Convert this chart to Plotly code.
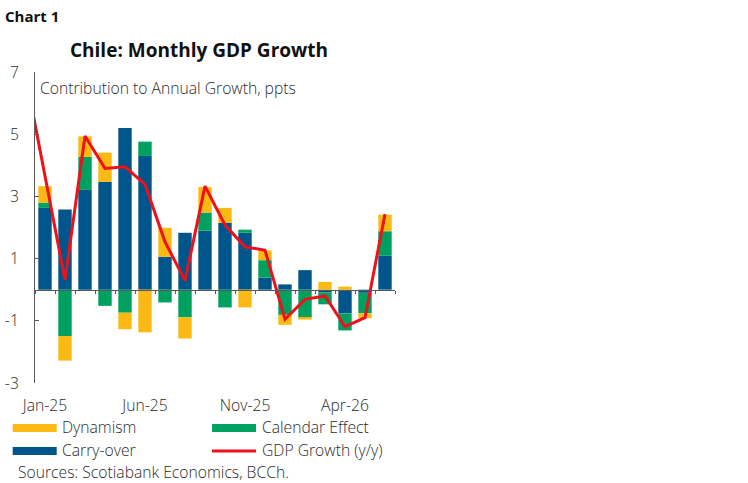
import plotly.graph_objects as go

months = ["Jan-25", "Feb-25", "Mar-25", "Apr-25", "May-25", "Jun-25", "Jul-25", "Aug-25", "Sep-25",
          "Oct-25", "Nov-25", "Dec-25", "Jan-26", "Feb-26", "Mar-26", "Apr-26", "May-26", "Jun-26"]
line_months = ["Dec-24"] + months
carry_over = [2.63, 2.58, 3.21, 3.47, 5.20, 4.30, 1.06, 1.83, 1.90, 2.15, 1.83, 0.39, 0.17, 0.63, -0.09, -0.76, -0.10, 1.09]
calendar_effect = [0.17, -1.49, 1.06, -0.52, -0.74, 0.46, -0.41, -0.89, 0.58, -0.57, 0.10, 0.56, -0.81, -0.90, -0.38, -0.55, -0.66, 0.79]
dynamism = [0.53, -0.79, 0.66, 0.94, -0.53, -1.37, 0.93, -0.68, 0.82, 0.48, -0.57, 0.31, -0.32, -0.06, 0.25, 0.10, -0.16, 0.53]
gdp_growth = [7.0, 3.6, 0.31, 4.94, 3.90, 3.95, 3.39, 1.54, 0.29, 3.33, 2.08, 1.38, 1.27, -0.95, -0.31, -0.20, -1.19, -0.90, 2.43]
x_tick_labels = ["Jan-25", "Jun-25", "Nov-25", "Apr-26"]
y_tick_vals = [-3, -1, 1, 3, 5, 7]
y_tick_text = ["-3", "-1", "1", "3", "5", "7"]

YELLOW = "#FDB913"
GREEN = "#00A160"
BLUE = "#00568A"
RED = "#EC111A"
AXIS = "#595959"
TEXT = "#2b2b2b"
BODY_FONT = "Open Sans"
BOLD_FONT = "Open Sans"
FS = 15.7
FW = 300

W, H = 748, 483
L, R, T, B = 35, 353, 72, 100
PW, PH = W - L - R, H - T - B


def px(xp):
    return (xp - L) / PW


def py(yp):
    return (H - B - yp) / PH


def body(size=FS):
    return dict(family=BODY_FONT, size=size, color=TEXT, weight=FW)


fig = go.Figure()
for name, vals, col in [("Carry-over", carry_over, BLUE),
                        ("Calendar Effect", calendar_effect, GREEN),
                        ("Dynamism", dynamism, YELLOW)]:
    fig.add_trace(go.Bar(x=months, y=vals, name=name, marker=dict(color=col, line=dict(width=0)),
                         showlegend=False, xaxis="x", yaxis="y"))

fig.add_trace(go.Scatter(x=line_months, y=gdp_growth, mode="lines", name="GDP Growth (y/y)",
                         line=dict(color=RED, width=3), showlegend=False, xaxis="x2", yaxis="y"))

fig.update_layout(
    width=W, height=H,
    margin=dict(l=L, r=R, t=T, b=B, autoexpand=False),
    paper_bgcolor="white", plot_bgcolor="white",
    barmode="relative", bargap=0.33,
    font=body(),
    title=dict(text="<b>Chile: Monthly GDP Growth</b>", x=199 / W, xanchor="center",
               y=1 - 50 / H, yanchor="middle", font=dict(size=19, color="#111111", family=BOLD_FONT)),
    xaxis=dict(type="category", categoryorder="array", categoryarray=line_months,
               range=[0.5, 18.5], anchor="free", position=0.3, automargin=False,
               showline=True, linecolor=AXIS, linewidth=1,
               ticks="outside", ticklen=3, tickcolor=AXIS, tickson="boundaries",
               tickmode="linear", tick0=0, dtick=1,
               showticklabels=False, showgrid=False, zeroline=False),
    xaxis2=dict(type="category", categoryorder="array", categoryarray=line_months,
                overlaying="x", matches="x", anchor="y", side="bottom", automargin=False,
                showline=False, ticks="", tickmode="array", tickvals=x_tick_labels,
                ticktext=x_tick_labels, ticklabelstandoff=11,
                tickfont=body(),
                showgrid=False, zeroline=False),
    yaxis=dict(range=[-3, 7], showline=True, linecolor=AXIS, linewidth=1, automargin=False,
               ticks="inside", ticklen=4, tickcolor=AXIS,
               tickmode="array", tickvals=y_tick_vals, ticktext=y_tick_text,
               ticklabelstandoff=12, tickfont=body(),
               showgrid=False, zeroline=False),
)

annotations = [
    dict(text="<b>Chart 1</b>", x=px(3), y=py(16), xref="paper", yref="paper",
         xanchor="left", yanchor="middle", showarrow=False,
         font=dict(size=15, color="#111111", family=BOLD_FONT)),
    dict(text="Contribution to Annual Growth, ppts", x=px(38), y=py(88), xref="paper", yref="paper",
         xanchor="left", yanchor="middle", showarrow=False, font=body()),
    dict(text="Sources: Scotiabank Economics, BCCh.", x=px(17), y=py(472), xref="paper", yref="paper",
         xanchor="left", yanchor="middle", showarrow=False, borderpad=0, font=body()),
]

legend_items = [
    ("Dynamism", YELLOW, "box", 12.7, 61, 428),
    ("Calendar Effect", GREEN, "box", 212, 261, 428),
    ("Carry-over", BLUE, "box", 12.7, 61, 451),
    ("GDP Growth (y/y)", RED, "line", 212, 261, 451),
]
shapes = []
for text, col, kind, sx, tx, yy in legend_items:
    if kind == "box":
        shapes.append(dict(type="rect", xref="paper", yref="paper", x0=px(sx), x1=px(sx + 44),
                           y0=py(yy + 4), y1=py(yy - 4), fillcolor=col, line=dict(width=0)))
    else:
        shapes.append(dict(type="line", xref="paper", yref="paper", x0=px(sx), x1=px(sx + 44),
                           y0=py(yy), y1=py(yy), line=dict(color=col, width=3)))
    annotations.append(dict(text=text, x=px(tx), y=py(yy - 1), xref="paper", yref="paper",
                            xanchor="left", yanchor="middle", showarrow=False, borderpad=0,
                            font=body()))

fig.update_layout(annotations=annotations, shapes=shapes)
fig.write_html("out.html", config={"displayModeBar": False},
               post_script="document.body.style.margin='0';document.body.style.overflow='hidden';")
